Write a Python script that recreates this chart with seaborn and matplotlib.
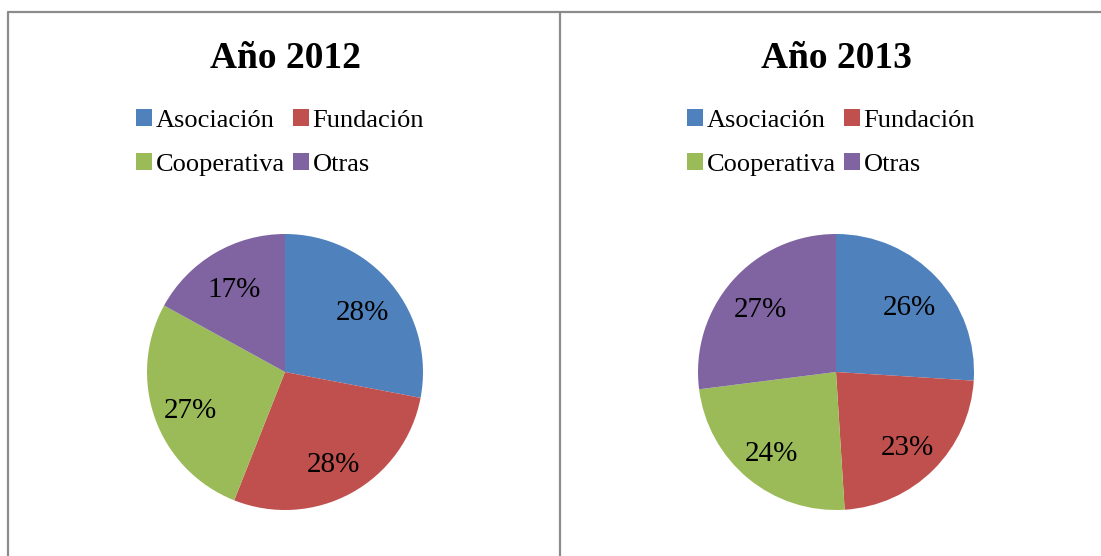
import matplotlib
matplotlib.use("Agg")
import matplotlib.pyplot as plt
from matplotlib.lines import Line2D
from matplotlib.patches import Patch
import seaborn as sns

# data
categorias = ['Asociación', 'Fundación', 'Cooperativa', 'Otras']
valores_2012 = [28, 28, 27, 17]
valores_2013 = [26, 23, 24, 27]
titulos = ['Año 2012', 'Año 2013']

sns.set_theme(style='white')
plt.rcParams['font.family'] = ['Liberation Serif', 'DejaVu Serif']
plt.rcParams['text.color'] = 'black'
colores = sns.color_palette(['#4F81BD', '#C0504D', '#9BBB59', '#8064A2'])

W, H = 1101, 556
fig = plt.figure(figsize=(W / 100, H / 100), dpi=100)
fig.patch.set_facecolor('white')

def px_axes(cx, cy, r):
    return fig.add_axes([(cx - r) / W, (H - cy - r) / H, 2 * r / W, 2 * r / H])

centros = [285, 836]
for cx, vals, titulo in zip(centros, [valores_2012, valores_2013], titulos):
    ax = px_axes(cx, 372, 138)
    wedges, textos, autotextos = ax.pie(
        vals, colors=colores, startangle=90, counterclock=False,
        autopct='%.0f%%', pctdistance=0.73,
        textprops={'fontsize': 21, 'color': 'black'},
        wedgeprops={'linewidth': 0})
    for t in autotextos:
        x, y = t.get_position()
        t.set_position((x, y - 0.035))
    ax.set_xlim(-1, 1)
    ax.set_ylim(-1, 1)
    ax.set_aspect('equal')

    fig.text(cx / W, 1 - 59 / H, titulo, ha='center', va='center',
             fontsize=27, fontweight='bold', color='black')

    handles = [Patch(facecolor=c, edgecolor='none') for c in colores]
    orden = [0, 2, 1, 3]
    fig.legend([handles[i] for i in orden], [categorias[i] for i in orden],
               loc='center', bbox_to_anchor=((cx - 5) / W, 1 - 142.5 / H),
               ncol=2, frameon=False, fontsize=19,
               handlelength=0.6, handleheight=0.6, handletextpad=0.15,
               columnspacing=0.3, labelspacing=0.8, borderpad=0)

# chart borders
borde = dict(color='#8c8c8c', linewidth=1.6, transform=fig.transFigure)
fig.add_artist(Line2D([8 / W, 1], [1 - 12 / H, 1 - 12 / H], **borde))
fig.add_artist(Line2D([8 / W, 8 / W], [0, 1 - 12 / H], **borde))
fig.add_artist(Line2D([560 / W, 560 / W], [0, 1 - 12 / H], **borde))

fig.savefig('out.png', dpi=100, facecolor='white')
